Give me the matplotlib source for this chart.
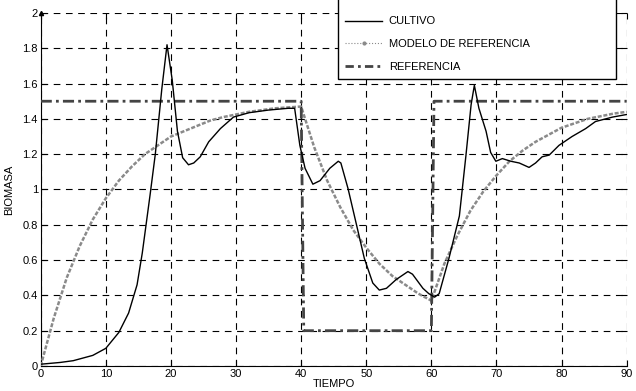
import matplotlib
matplotlib.use("Agg")
import matplotlib.pyplot as plt
from matplotlib.patches import Rectangle
from matplotlib.lines import Line2D

plt.rcParams['font.family'] = ['Liberation Sans', 'DejaVu Sans']

# referencia (escalon)
t_ref = [0, 40, 40.4, 60, 60.4, 90]
ref = [1.5, 1.5, 0.2, 0.2, 1.5, 1.5]

# modelo de referencia
t_mod = [0, 2, 4, 6, 8, 10, 12, 14, 16, 18, 20, 22, 24, 26, 28, 30, 32, 34, 36, 38, 40,
         42, 44, 46, 48, 50, 52, 54, 56, 58, 60,
         62, 64, 66, 68, 70, 72, 74, 76, 78, 80, 82, 84, 86, 88, 90]
modelo = [0.0, 0.27, 0.50, 0.68, 0.83, 0.95, 1.05, 1.13, 1.20, 1.25, 1.30, 1.33, 1.36, 1.39, 1.41, 1.425,
          1.44, 1.45, 1.46, 1.465, 1.47,
          1.24, 1.05, 0.90, 0.77, 0.67, 0.58, 0.51, 0.46, 0.41, 0.37,
          0.58, 0.74, 0.88, 0.99, 1.08, 1.16, 1.22, 1.27, 1.31, 1.35, 1.375, 1.40, 1.415, 1.43, 1.44]

# cultivo
t_cul = [0, 3, 5, 8, 10, 12, 13.5, 14.8, 15.6, 16.8, 17.6, 18.6, 19.4, 20.2, 21.0, 21.8, 22.7,
         23.5, 24.5, 25.8, 27.6, 29.6, 32, 35, 38, 39.0, 39.8, 40.6, 41.8, 42.9, 44.4, 45.7, 46.1,
         47.2, 48.5, 49.7, 51.0, 52.0, 53.1, 54.6, 56.4, 57.1, 58.7, 59.6, 60.5, 61.2, 62.7, 64.3,
         65.3, 66.1, 66.6, 67.3, 68.4, 69.1, 69.9, 70.9, 72.2, 73.5, 75.0, 76.0, 77.0, 78.1, 79.6,
         81.6, 83.7, 85.2, 87.8, 90]
cultivo = [0.01, 0.02, 0.03, 0.06, 0.10, 0.19, 0.30, 0.46, 0.64, 0.97, 1.20, 1.57, 1.82, 1.62,
           1.33, 1.18, 1.14, 1.15, 1.185, 1.27, 1.345, 1.41, 1.435, 1.45, 1.46, 1.46, 1.25, 1.12,
           1.03, 1.05, 1.12, 1.16, 1.15, 1.005, 0.80, 0.61, 0.47, 0.43, 0.44, 0.49, 0.535, 0.52,
           0.44, 0.41, 0.39, 0.41, 0.61, 0.85, 1.19, 1.48, 1.59, 1.46, 1.33, 1.21, 1.16, 1.175,
           1.16, 1.15, 1.125, 1.15, 1.185, 1.195, 1.25, 1.30, 1.345, 1.385, 1.41, 1.425]

fig = plt.figure(figsize=(6.36, 3.91), dpi=100)
ax = fig.add_axes([0.064, 0.064, 0.9214, 0.9028])

ax.plot(t_cul, cultivo, color='black', lw=1.0, zorder=4)
ax.plot(t_mod, modelo, color='#8a8a8a', lw=1.8, ls=(0, (1.6, 0.7)), zorder=3)
ax.plot(t_ref, ref, color='#444444', lw=2.0, ls=(0, (4, 1.5, 1, 1.5)), zorder=3)

ax.set_xlim(0, 90)
ax.set_ylim(0, 2)
ax.set_xticks(range(0, 91, 10))
ax.set_yticks([0, 0.2, 0.4, 0.6, 0.8, 1, 1.2, 1.4, 1.6, 1.8, 2])
ax.set_yticklabels(['0', '0.2', '0.4', '0.6', '0.8', '1', '1.2', '1.4', '1.6', '1.8', '2'])
ax.grid(True, color='black', ls=(0, (6, 5)), lw=0.8)
ax.tick_params(direction='in', top=True, right=True, labelsize=8, length=4, pad=2)
ax.spines['top'].set_visible(False)
ax.spines['right'].set_visible(False)
ax.set_xlabel('TIEMPO', fontsize=8, labelpad=0)
ax.set_ylabel('BIOMASA', fontsize=8, labelpad=6)
ax.plot([0], [2], marker='^', color='black', markersize=3, clip_on=False)

# marco de la leyenda
fig.patches.append(Rectangle((338 / 636, 1 - 79 / 391), 278 / 636, 100 / 391,
                             transform=fig.transFigure, fill=True, facecolor='white',
                             edgecolor='black', lw=1.0, zorder=5))
handles = [Line2D([], [], color='black', lw=1.0),
           Line2D([], [], color='#8a8a8a', lw=0.8, ls=':', marker='.', markersize=4,
                  markevery=[1]),
           Line2D([], [], color='#444444', lw=2.0, ls=(0, (3, 1.5, 1, 1.5)))]
labels = ['CULTIVO', 'MODELO DE REFERENCIA', 'REFERENCIA']
leg = fig.legend(handles, labels, loc='upper left', bbox_to_anchor=(341 / 636, 1 - 12 / 391),
                 frameon=False, fontsize=8, handlelength=3.3, labelspacing=1.15,
                 borderaxespad=0, handletextpad=0.6)
leg.set_zorder(6)

fig.savefig('out.png', dpi=100)
